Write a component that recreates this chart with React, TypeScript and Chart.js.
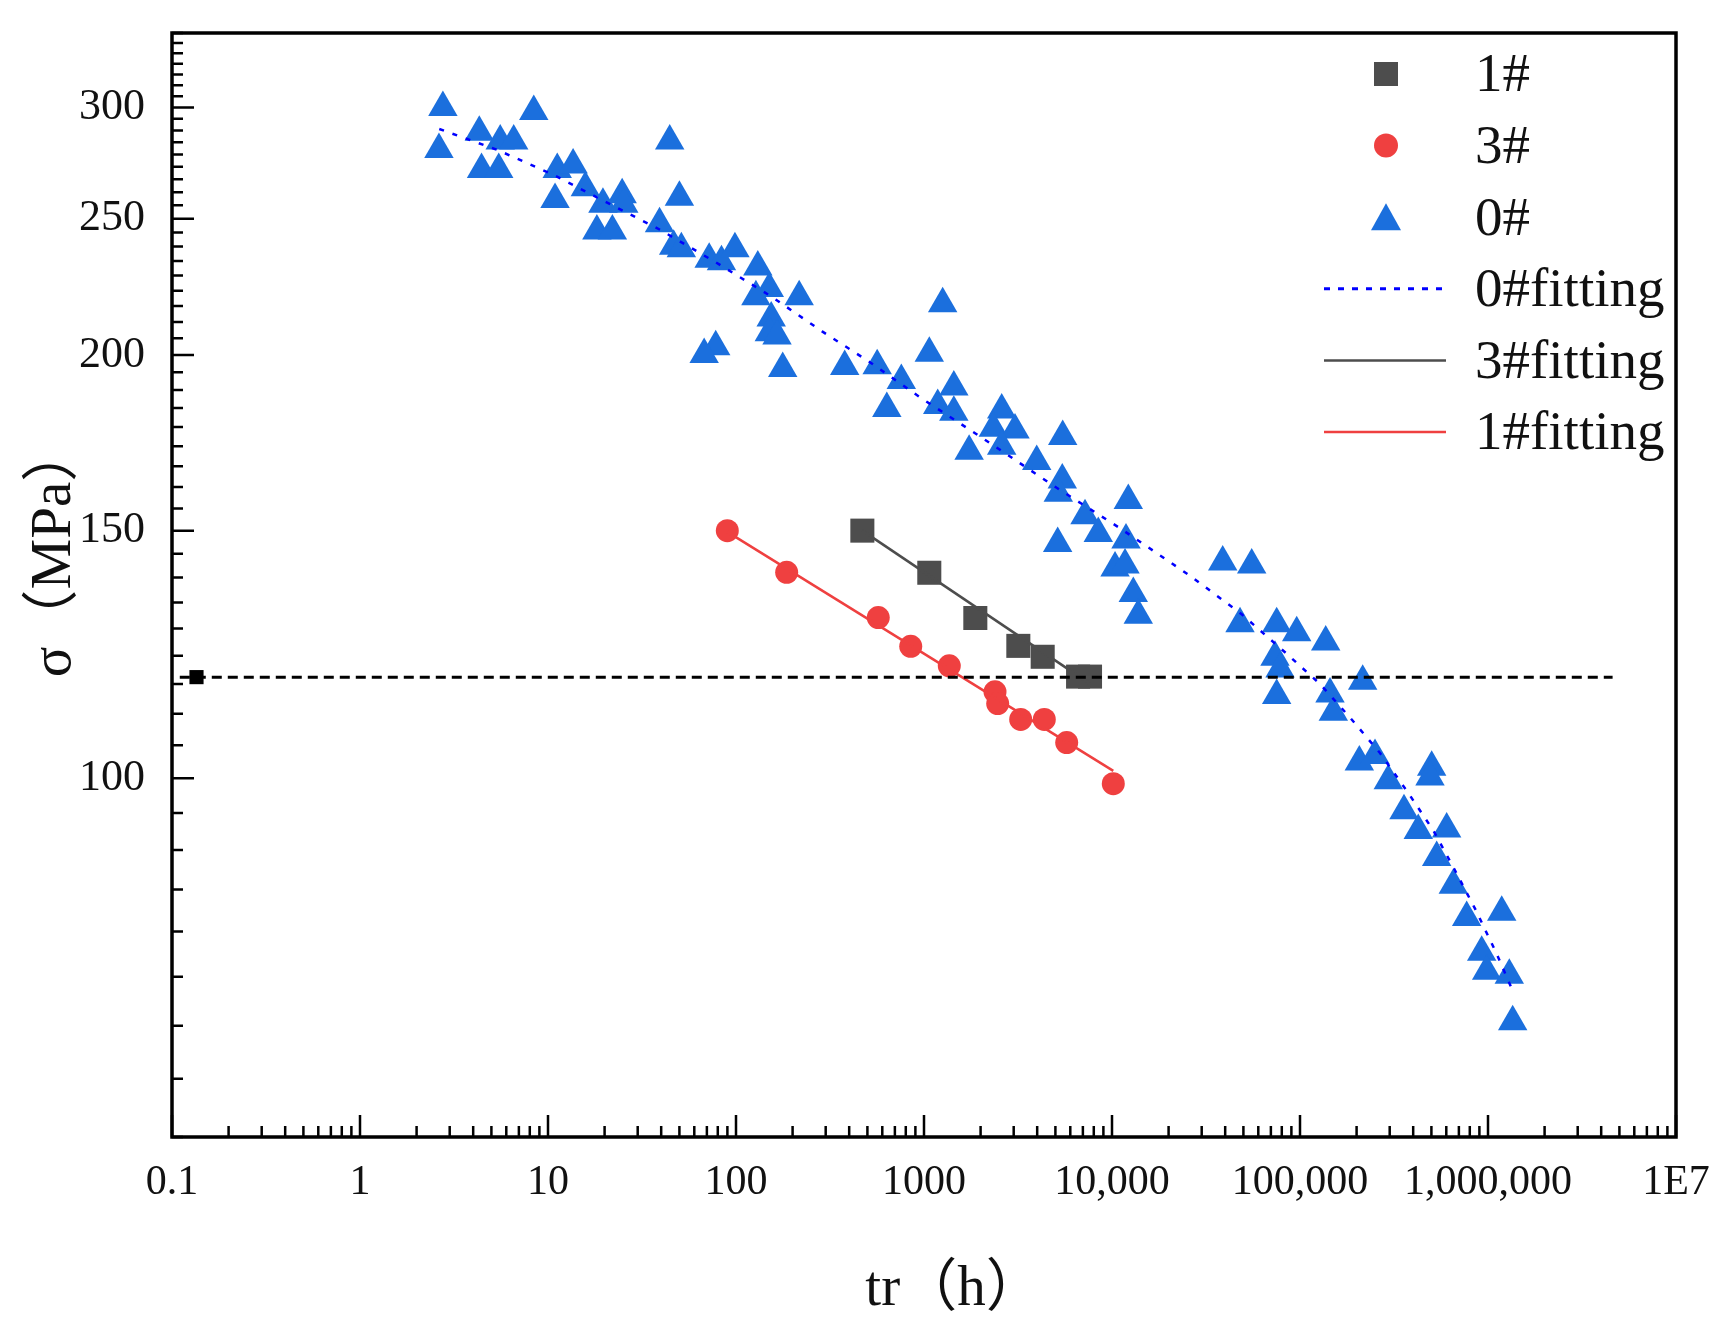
import React, { useEffect, useRef } from 'react';
import { Chart, registerables } from 'chart.js';

Chart.register(...registerables);

const SERIF = "'Liberation Serif', 'Times New Roman', serif";
const TITLE_FONT = "'Liberation Serif', 'Noto Sans CJK SC', serif";

// ---- axis ticks ----
const xMajorTicks = [0.1, 1, 10, 100, 1000, 1e4, 1e5, 1e6, 1e7];
const xTickLabels = ['0.1', '1', '10', '100', '1000', '10,000', '100,000', '1,000,000', '1E7'];
const yMajorTicks = [100, 150, 200, 250, 300];
const yTickLabels = ['100', '150', '200', '250', '300'];
const xMin = 0.1;
const xMax = 1e7;
const yMin = 55.56;
const yMax = 338.9;
const xTitle = 'tr（h）';
const yTitle = 'σ（MPa）';

// ---- 0# (blue triangles) ----
const s0Time = [
  2.76, 8.4, 2.63, 4.31, 5.57, 6.57, 4.43, 5.47, 11.2, 13.6,
  15.8, 10.9, 19.6, 24.8, 25.3, 18.2, 22.0, 44.4, 50.0, 39.2,
  46.6, 51.2, 72.0, 83.7, 98.7, 130.6, 150.4, 127.6, 216.8, 153.9,
  150.4, 165.3, 78.0, 67.7, 177.2, 378.6, 563.6, 757.5, 634.2, 1257,
  1067, 1441, 1183, 1441, 1738, 2590, 2337, 3048, 2590, 3977,
  5467, 5440, 5181, 12210, 7185, 8453, 5141, 11870, 10380, 11730,
  12980, 13800, 38800, 55340, 47970, 75160, 96030, 137000, 73620, 78290,
  75160, 144400, 215500, 150400, 206800, 250600, 501700, 491400, 294900, 357400,
  425700, 602700, 533400, 653800, 770100, 1183000, 925700, 984000, 1298000, 1353000,
];
const s0Stress = [
  300, 298, 280, 288, 284, 284, 271, 271, 271, 273,
  263, 258, 256, 260, 256, 245, 245, 284, 259, 248,
  239, 238, 234, 233, 238, 231, 223, 220, 220, 212.5,
  207.4, 206.3, 202.7, 200.2, 195.6, 196.3, 196.5, 191.8, 183.2, 217.5,
  200.6, 189.8, 184.1, 182.1, 170.8, 182.8, 177.4, 176.9, 172.2, 168.0,
  175.0, 163.0, 159.5, 157.6, 153.7, 149.3, 146.9, 147.7, 141.1, 141.8,
  135.3, 130.6, 142.5, 141.8, 128.8, 128.8, 126.9, 125.0, 121.9, 119.6,
  114.5, 114.8, 117.2, 111.4, 102.7, 103.8, 101.8, 100.2, 99.6, 94.8,
  91.8, 92.0, 87.8, 83.9, 79.6, 80.3, 75.2, 72.9, 72.4, 67.1,
];

// ---- 0#fitting (blue dotted curve) ----
const fit0Time = [
  2.64, 5.39, 10.6, 20.5, 39.5, 78, 152.6, 287, 520, 958,
  1746, 2335, 5079, 11030, 26220, 48970, 84950, 127700, 186100, 266400,
  376700, 511800, 667100, 863400, 1112000, 1353000,
];
const fit0Stress = [
  289.6, 279.8, 268.8, 256.8, 245.5, 232.8, 220.3, 207.9, 197.5, 186.5,
  177.0, 172.5, 160.9, 150.6, 139.2, 130.8, 122.6, 116.7, 110.3, 104.2,
  97.6, 91.8, 86.0, 80.5, 75.0, 70.6,
];

// ---- 3# (red circles) ----
const s3Time = [89.9, 186, 571, 850, 1363, 2386, 2466, 3268, 4364, 5741, 10160];
const s3Stress = [150, 140.1, 130.1, 124.1, 120.2, 115.2, 113.0, 110.1, 110.1, 106.0, 99.1];

// ---- 1# (gray squares) ----
const s1Time = [470, 1067, 1875, 3175, 4279, 6600, 7640];
const s1Stress = [150, 140, 130, 124.2, 122, 118.1, 118.1];

// ---- fitting lines of the two alloys (labels as in legend) ----
const fitRedTime = [89.9, 10160];
const fitRedStress = [149.7, 101.2];
const fitGrayTime = [469.7, 7640];
const fitGrayStress = [150, 116.7];

// ---- horizontal reference line ----
const refTime = [0.11, 0.135, 4.6e6];
const refStress = [118, 118, 118];

const legendLabels = ['1#', '3#', '0#', '0#fitting', '3#fitting', '1#fitting'];

const BLUE = '#1b6fdd';
const RED = '#ef4040';
const GRAY = '#4d4d4d';
const DOT_BLUE = '#0000ff';

const pts = (xs: number[], ys: number[]) => xs.map((x, i) => ({ x, y: ys[i] }));

const framePlugin = {
  id: 'frameTicks',
  afterDraw(chart: any) {
    const { ctx, chartArea: ca, scales } = chart;
    const xs = scales.x;
    const ys = scales.y;
    ctx.save();
    ctx.strokeStyle = '#000';
    ctx.lineCap = 'butt';
    ctx.lineWidth = 2.5;
    ctx.beginPath();
    // x ticks (inward)
    for (let d = -1; d <= 7; d++) {
      const base = Math.pow(10, d);
      const px = xs.getPixelForValue(base);
      ctx.moveTo(px, ca.bottom);
      ctx.lineTo(px, ca.bottom - 22);
      if (d < 7) {
        for (let k = 2; k <= 9; k++) {
          const p = xs.getPixelForValue(k * base);
          ctx.moveTo(p, ca.bottom);
          ctx.lineTo(p, ca.bottom - 11);
        }
      }
    }
    // y ticks (inward), 8 minor ticks between majors of step 50
    for (let k = 1; k <= 52; k++) {
      const v = 50 * (1 + k / 9);
      const py = ys.getPixelForValue(v);
      const len = k % 9 === 0 ? 22 : 11;
      ctx.moveTo(ca.left, py);
      ctx.lineTo(ca.left + len, py);
    }
    ctx.stroke();
    ctx.lineWidth = 3.5;
    ctx.strokeRect(ca.left, ca.top, ca.right - ca.left, ca.bottom - ca.top);

    // axis titles
    ctx.fillStyle = '#111';
    ctx.font = `57px ${TITLE_FONT}`;
    ctx.textBaseline = 'middle';
    ctx.textAlign = 'center';
    ctx.fillText(xTitle, (ca.left + ca.right) / 2 + 30, ca.bottom + 153);
    ctx.save();
    ctx.translate(55, (ca.top + ca.bottom) / 2 - 34);
    ctx.rotate(-Math.PI / 2);
    ctx.fillText(yTitle, 0, 0);
    ctx.restore();

    // legend
    const mx = ca.right - 290;
    const tx = ca.right - 201;
    const y0 = ca.top + 41;
    const step = 71.6;
    const l1 = ca.right - 352;
    const l2 = ca.right - 230;
    ctx.font = `55px ${SERIF}`;
    ctx.textBaseline = 'middle';
    ctx.textAlign = 'left';
    legendLabels.forEach((lab, i) => {
      const y = y0 + i * step;
      ctx.save();
      if (i === 0) {
        ctx.fillStyle = GRAY;
        ctx.fillRect(mx - 12, y - 12, 24, 24);
      } else if (i === 1) {
        ctx.fillStyle = RED;
        ctx.beginPath();
        ctx.arc(mx, y, 12, 0, Math.PI * 2);
        ctx.fill();
      } else if (i === 2) {
        ctx.fillStyle = BLUE;
        ctx.beginPath();
        ctx.moveTo(mx, y - 14);
        ctx.lineTo(mx + 15, y + 13);
        ctx.lineTo(mx - 15, y + 13);
        ctx.closePath();
        ctx.fill();
      } else {
        ctx.lineWidth = i === 3 ? 3 : 2.5;
        ctx.strokeStyle = i === 3 ? DOT_BLUE : i === 4 ? GRAY : RED;
        ctx.setLineDash(i === 3 ? [6, 8] : []);
        ctx.beginPath();
        ctx.moveTo(l1, y);
        ctx.lineTo(l2, y);
        ctx.stroke();
      }
      ctx.restore();
      ctx.fillStyle = '#111';
      ctx.fillText(lab, tx, y + 3);
    });
    ctx.restore();
  },
};

export default function App() {
  const ref = useRef<HTMLCanvasElement>(null);

  useEffect(() => {
    if (!ref.current) return;
    const chart = new Chart(ref.current, {
      type: 'scatter',
      data: {
        datasets: [
          {
            label: 'ref',
            data: pts(refTime, refStress),
            showLine: true,
            borderColor: '#000',
            borderWidth: 3,
            borderDash: [10, 6],
            pointRadius: [0, 10, 0],
            pointStyle: 'rect',
            pointBackgroundColor: '#000',
            pointBorderWidth: 0,
            fill: false,
            order: 0,
          },
          {
            label: '0#fitting',
            data: pts(fit0Time, fit0Stress),
            showLine: true,
            borderColor: DOT_BLUE,
            borderWidth: 2.5,
            borderDash: [5, 9],
            pointRadius: 0,
            fill: false,
            order: 1,
          },
          {
            label: '3#fitting',
            data: pts(fitGrayTime, fitGrayStress),
            showLine: true,
            borderColor: GRAY,
            borderWidth: 2.5,
            pointRadius: 0,
            fill: false,
            order: 2,
          },
          {
            label: '1#fitting',
            data: pts(fitRedTime, fitRedStress),
            showLine: true,
            borderColor: RED,
            borderWidth: 2.5,
            pointRadius: 0,
            fill: false,
            order: 3,
          },
          {
            label: '3#',
            data: pts(s3Time, s3Stress),
            pointStyle: 'circle',
            pointRadius: 11.5,
            pointBackgroundColor: RED,
            pointBorderWidth: 0,
            order: 4,
          },
          {
            label: '1#',
            data: pts(s1Time, s1Stress),
            pointStyle: 'rect',
            pointRadius: 17,
            pointBackgroundColor: GRAY,
            pointBorderWidth: 0,
            order: 5,
          },
          {
            label: '0#',
            data: pts(s0Time, s0Stress),
            pointStyle: 'triangle',
            pointRadius: 17,
            pointBackgroundColor: BLUE,
            pointBorderWidth: 0,
            order: 6,
          },
        ],
      },
      options: {
        responsive: false,
        animation: false,
        events: [],
        layout: { padding: { top: 33, right: 48, left: 0, bottom: 0 } },
        plugins: { legend: { display: false }, tooltip: { enabled: false } },
        scales: {
          x: {
            type: 'logarithmic',
            position: 'bottom',
            min: xMin,
            max: xMax,
            grid: { display: false, drawTicks: false },
            border: { display: false },
            afterBuildTicks: (s: any) => {
              s.ticks = xMajorTicks.map((v) => ({ value: v }));
            },
            afterFit: (s: any) => {
              s.height = 191;
              s.paddingLeft = 0;
              s.paddingRight = 0;
            },
            ticks: {
              autoSkip: false,
              maxRotation: 0,
              minRotation: 0,
              padding: 21,
              color: '#111',
              font: { family: SERIF, size: 42 },
              callback: (_v: any, i: number) => xTickLabels[i],
            },
            title: { display: false },
          },
          y: {
            type: 'logarithmic',
            position: 'left',
            min: yMin,
            max: yMax,
            grid: { display: false, drawTicks: false },
            border: { display: false },
            afterBuildTicks: (s: any) => {
              s.ticks = yMajorTicks.map((v) => ({ value: v }));
            },
            afterFit: (s: any) => {
              s.width = 172;
              s.paddingTop = 0;
              s.paddingBottom = 0;
            },
            ticks: {
              autoSkip: false,
              padding: 27,
              color: '#111',
              font: { family: SERIF, size: 44 },
              callback: (_v: any, i: number) => yTickLabels[i],
            },
            title: { display: false },
          },
        },
      } as any,
      plugins: [framePlugin],
    });
    return () => chart.destroy();
  }, []);

  return (
    <div style={{ position: 'fixed', left: 0, top: 0, width: 1724, height: 1328, background: '#fff' }}>
      <canvas ref={ref} width={1724} height={1328} style={{ width: 1724, height: 1328, display: 'block' }} />
    </div>
  );
}
